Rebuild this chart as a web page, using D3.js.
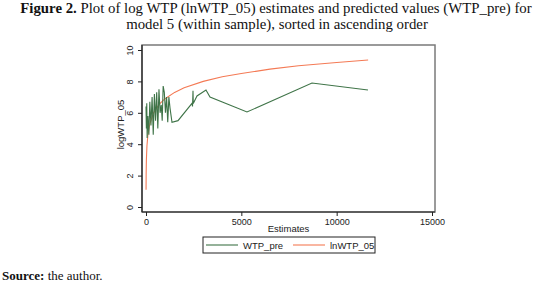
<!DOCTYPE html>
<html>
<head>
<meta charset="utf-8">
<script src="https://cdn.jsdelivr.net/npm/d3@7"></script>
<style>
  body { margin: 0; background: #fff; }
  svg { display: block; }
</style>
</head>
<body>
<div id="chart"></div>
<script>
// WTP_pre (predicted values)
const wtpPreX = [0, 20, 40, 60, 100, 150, 200, 260, 320, 380, 440, 500, 560, 620, 680, 740, 800, 850, 900, 960, 1020, 1080, 1140, 1200, 1260, 1363, 1678, 2412, 2440, 2465, 2480, 2674, 3146, 3356, 5296, 8705, 11641];
const wtpPreY = [6.4, 5.0, 6.6, 4.4, 5.8, 4.6, 6.7, 5.2, 7.0, 4.6, 7.2, 5.5, 7.3, 5.0, 7.5, 6.0, 6.5, 5.5, 7.7, 7.3, 6.0, 7.0, 5.4, 7.0, 6.3, 5.4, 5.5, 6.6, 6.4, 7.4, 6.6, 7.07, 7.45, 7.0, 6.05, 7.9, 7.45];

// lnWTP_05 (log WTP estimates)
const lnWtpX = [3, 8, 20, 50, 100, 200, 400, 700, 1000, 1500, 2000, 3000, 4000, 5000, 6500, 8000, 10000, 11650];
const lnWtpY = [1.1, 2.1, 3.0, 3.9, 4.6, 5.3, 6.0, 6.55, 6.9, 7.3, 7.6, 8.0, 8.3, 8.5, 8.78, 9.0, 9.2, 9.36];

const xTicks = [0, 5000, 10000, 15000];
const yTicks = [0, 2, 4, 6, 8, 10];

const W = 554, H = 288;
const svg = d3.select("#chart").append("svg")
  .attr("width", W)
  .attr("height", H);

// title
const title = svg.append("text")
  .attr("x", 276)
  .attr("y", 13)
  .attr("text-anchor", "middle")
  .style("font-family", "'Liberation Serif', serif")
  .style("font-size", "14.8px")
  .attr("fill", "#111");
title.append("tspan").style("font-weight", "700").text("Figure 2.");
title.append("tspan").text(" Plot of log WTP (lnWTP_05) estimates and predicted values (WTP_pre) for");

svg.append("text")
  .attr("x", 277)
  .attr("y", 29)
  .attr("text-anchor", "middle")
  .style("font-family", "'Liberation Serif', serif")
  .style("font-size", "14.8px")
  .attr("fill", "#111")
  .text("model 5 (within sample), sorted in ascending order");

const src = svg.append("text")
  .attr("x", 2)
  .attr("y", 280)
  .style("font-family", "'Liberation Serif', serif")
  .style("font-size", "13px")
  .attr("fill", "#111");
src.append("tspan").style("font-weight", "700").text("Source:");
src.append("tspan").text(" the author.");

// plot region
const box = { left: 142, top: 45, right: 435, bottom: 212 };

const x = d3.scaleLinear().domain([0, 15000]).range([146, 432]);
const y = d3.scaleLinear().domain([0, 10]).range([207, 50]);

svg.append("rect")
  .attr("x", box.left)
  .attr("y", box.top)
  .attr("width", box.right - box.left)
  .attr("height", box.bottom - box.top)
  .attr("fill", "#fff")
  .attr("stroke", "#7a7a7a")
  .attr("stroke-width", 1.5);

const font = "'Liberation Sans', Arial, sans-serif";

// x axis
const gx = svg.append("g")
  .attr("transform", `translate(0,${box.bottom})`)
  .call(d3.axisBottom(x).tickValues(xTicks).tickSize(4).tickPadding(3).tickFormat(d3.format("d")));
gx.select(".domain").attr("d", `M${box.left},0H${box.right}`).attr("stroke", "#222").attr("stroke-width", 1.2);
gx.selectAll(".tick line").attr("stroke", "#222");
gx.selectAll("text").style("font-family", font).style("font-size", "9px").attr("fill", "#222");

// y axis
const gy = svg.append("g")
  .attr("transform", `translate(${box.left},0)`)
  .call(d3.axisLeft(y).tickValues(yTicks).tickSize(4).tickFormat(d3.format("d")));
gy.select(".domain").attr("d", `M0,${box.top}V${box.bottom}`).attr("stroke", "#222").attr("stroke-width", 1.2);
gy.selectAll(".tick line").attr("stroke", "#222");
gy.selectAll("text")
  .attr("x", null).attr("dy", null)
  .attr("text-anchor", "middle")
  .attr("transform", "translate(-9,0) rotate(-90)")
  .style("font-family", font).style("font-size", "9px").attr("fill", "#222");

// axis titles
svg.append("text")
  .attr("x", (box.left + box.right) / 2)
  .attr("y", 232)
  .attr("text-anchor", "middle")
  .style("font-family", font).style("font-size", "9.5px").attr("fill", "#222")
  .text("Estimates");

svg.append("text")
  .attr("transform", `translate(124,${(y(0) + y(10)) / 2 - 4}) rotate(-90)`)
  .attr("text-anchor", "middle")
  .style("font-family", font).style("font-size", "9.5px").attr("fill", "#222")
  .text("logWTP_05");

// lines
const green = "#3f7448", orange = "#f47a55";

const lineGen = d3.line().x(d => x(d[0])).y(d => y(d[1]));

svg.append("path")
  .datum(lnWtpX.map((v, i) => [v, lnWtpY[i]]))
  .attr("fill", "none")
  .attr("stroke", orange)
  .attr("stroke-width", 1.1)
  .attr("d", lineGen);

svg.append("path")
  .datum(wtpPreX.map((v, i) => [v, wtpPreY[i]]))
  .attr("fill", "none")
  .attr("stroke", green)
  .attr("stroke-width", 1.1)
  .attr("d", lineGen);

// legend
const lg = svg.append("g");
lg.append("rect")
  .attr("x", 203).attr("y", 237)
  .attr("width", 172).attr("height", 16)
  .attr("fill", "#fff").attr("stroke", "#222").attr("stroke-width", 1);

const legendItems = [
  { label: "WTP_pre", color: green, x0: 206 },
  { label: "lnWTP_05", color: orange, x0: 293 }
];
legendItems.forEach(d => {
  lg.append("line")
    .attr("x1", d.x0).attr("x2", d.x0 + 32)
    .attr("y1", 245).attr("y2", 245)
    .attr("stroke", d.color).attr("stroke-width", 1.1);
  lg.append("text")
    .attr("x", d.x0 + 37).attr("y", 248.5)
    .style("font-family", font).style("font-size", "9.5px").attr("fill", "#222")
    .text(d.label);
});
</script>
</body>
</html>
